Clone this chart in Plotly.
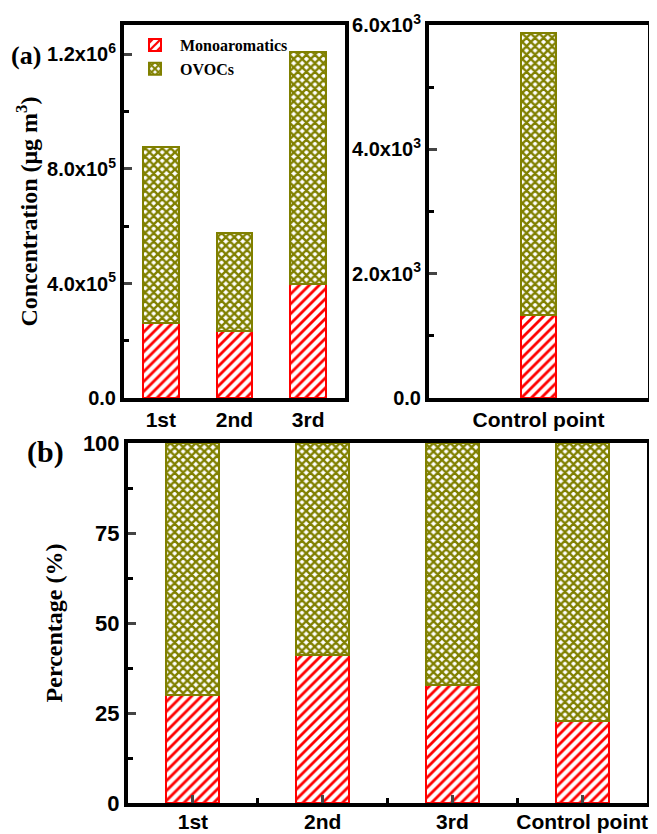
import plotly.graph_objects as go

# ---------------- data ----------------
sites_a = ["1st", "2nd", "3rd"]
mono_a = [263000, 235000, 397000]
ovoc_a = [615000, 340000, 813000]

site_ctrl = ["Control point"]
mono_ctrl = [1335]
ovoc_ctrl = [4531]

sites_b = ["1st", "2nd", "3rd", "Control point"]
mono_pct = [30.0, 41.0, 32.8, 22.8]
ovoc_pct = [70.0, 59.0, 67.2, 77.2]

ytick_a = [0, 400000, 800000, 1200000]
ytext_a = ["0.0", "4.0x10<sup>5</sup>", "8.0x10<sup>5</sup>", "1.2x10<sup>6</sup>"]
ytick_c = [0, 2000, 4000, 6000]
ytext_c = ["0.0", "2.0x10<sup>3</sup>", "4.0x10<sup>3</sup>", "6.0x10<sup>3</sup>"]
ytick_b = [0, 25, 50, 75, 100]

RED = "#ff0000"
OLIVE = "#808000"
OFF = 8                      # default page body margin
W, H = 657 - OFF, 834 - OFF
SERIF = "Liberation Serif, Times New Roman, serif"
SANS = "Liberation Sans, Arial, sans-serif"


def px(x):
    return (x - OFF) / W


def py(y):
    return 1 - (y - OFF) / H


def mono_marker():
    return dict(color="white", line=dict(color=RED, width=2),
                pattern=dict(shape="/", fgcolor=RED, bgcolor="white", size=7,
                             solidity=0.4, fgopacity=1))


def ovoc_marker():
    return dict(color="white", line=dict(color=OLIVE, width=2),
                pattern=dict(shape="x", fgcolor=OLIVE, bgcolor="white", size=6,
                             solidity=0.65, fgopacity=1))


fig = go.Figure()

xa = list(range(len(sites_a)))
xb = list(range(len(sites_b)))

fig.add_trace(go.Bar(x=xa, y=mono_a, name="Monoaromatics", marker=mono_marker(),
                     width=0.48, xaxis="x", yaxis="y"))
fig.add_trace(go.Bar(x=xa, y=ovoc_a, name="OVOCs", marker=ovoc_marker(),
                     width=0.48, xaxis="x", yaxis="y"))

fig.add_trace(go.Bar(x=[0], y=mono_ctrl, name="Monoaromatics", marker=mono_marker(),
                     width=0.16, xaxis="x2", yaxis="y2", showlegend=False))
fig.add_trace(go.Bar(x=[0], y=ovoc_ctrl, name="OVOCs", marker=ovoc_marker(),
                     width=0.16, xaxis="x2", yaxis="y2", showlegend=False))

fig.add_trace(go.Bar(x=xb, y=mono_pct, name="Monoaromatics", marker=mono_marker(),
                     width=0.41, xaxis="x3", yaxis="y3", showlegend=False))
fig.add_trace(go.Bar(x=xb, y=ovoc_pct, name="OVOCs", marker=ovoc_marker(),
                     width=0.41, xaxis="x3", yaxis="y3", showlegend=False))


def frame(size):
    return dict(showline=True, linecolor="black", linewidth=4, mirror=True,
                showgrid=False, zeroline=False, automargin=False,
                tickfont=dict(family=SANS, size=size, color="black", weight="bold"))


def minor(vals, ln=5):
    return dict(tickvals=vals, ticks="inside", ticklen=ln, tickwidth=3, tickcolor="black")


fig.update_layout(
    width=W, height=H,
    margin=dict(l=0, r=0, t=0, b=0, autoexpand=False),
    paper_bgcolor="white", plot_bgcolor="white",
    barmode="stack",
    showlegend=True,
    legend=dict(x=px(130), y=py(28), xanchor="left", yanchor="top",
                bgcolor="rgba(0,0,0,0)", borderwidth=0, traceorder="normal",
                font=dict(family=SERIF, size=16, color="black", weight="bold"),
                itemwidth=40, tracegroupgap=0),
    xaxis=dict(domain=[px(124), px(345)], anchor="y", range=[-0.5, 2.5],
               tickvals=xa, ticktext=sites_a, ticks="", **frame(21)),
    yaxis=dict(domain=[py(398), py(25)], anchor="x", range=[0, 1.303e6],
               tickvals=ytick_a, ticktext=ytext_a, ticks="inside", ticklen=8, tickwidth=3,
               minor=minor([200000, 600000, 1000000]),
               title=dict(text="Concentration (μg m<sup>3</sup>)", standoff=4,
                          font=dict(family=SERIF, size=24, color="black", weight="bold")),
               **frame(20)),
    xaxis2=dict(domain=[px(429), px(648)], anchor="y2", range=[-0.5, 0.5],
                tickvals=[0], ticktext=site_ctrl, ticks="", **frame(21)),
    yaxis2=dict(domain=[py(398), py(25)], anchor="x2", range=[0, 6000],
                tickvals=ytick_c, ticktext=ytext_c, ticks="inside", ticklen=8, tickwidth=3,
                minor=minor([1000, 3000, 5000]),
                **frame(20)),
    xaxis3=dict(domain=[px(128), px(647)], anchor="y3", range=[-0.5, 3.5],
                tickvals=xb, ticktext=sites_b, ticks="inside", ticklen=8, tickwidth=3,
                ticklabelstandoff=-3,
                minor=minor([0.5, 1.5, 2.5]),
                **frame(21)),
    yaxis3=dict(domain=[py(803), py(443)], anchor="x3", range=[0, 100],
                tickvals=ytick_b, ticks="inside", ticklen=8, tickwidth=3,
                minor=minor([12.5, 37.5, 62.5, 87.5]),
                title=dict(text="Percentage (%)", standoff=14,
                           font=dict(family=SERIF, size=24, color="black", weight="bold")),
                **frame(22)),
    annotations=[
        dict(text="<b>(a)</b>", x=px(9), y=py(55), xref="paper", yref="paper",
             xanchor="left", yanchor="middle", showarrow=False,
             font=dict(family=SERIF, size=26, color="black")),
        dict(text="<b>(b)</b>", x=px(25), y=py(452), xref="paper", yref="paper",
             xanchor="left", yanchor="middle", showarrow=False,
             font=dict(family=SERIF, size=30, color="black")),
    ],
)

fig.write_html("out.html")
